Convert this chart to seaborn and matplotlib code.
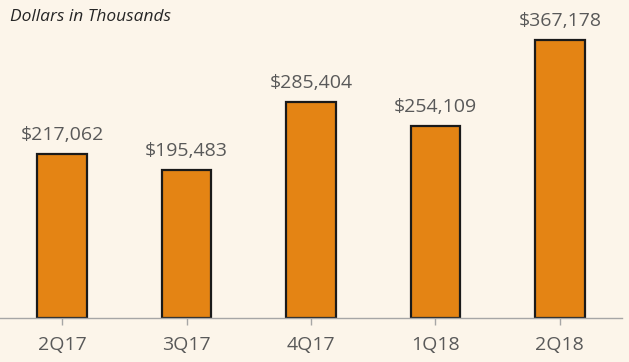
import matplotlib
matplotlib.use("Agg")
import matplotlib.pyplot as plt
import seaborn as sns
import pandas as pd

quarters = ["2Q17", "3Q17", "4Q17", "1Q18", "2Q18"]
values = [217062, 195483, 285404, 254109, 367178]

BG = "#FCF5EA"
BAR = "#E48414"
TXT = "#595959"

sns.set_theme(style="white")
plt.rcParams["font.family"] = ["Open Sans", "DejaVu Sans"]

df = pd.DataFrame({"quarter": quarters, "value": values})

fig = plt.figure(figsize=(6.29, 3.62), dpi=100, facecolor=BG)
ax = fig.add_axes([0.0, (362 - 318) / 362, 622 / 629, 318 / 362])
ax.set_facecolor(BG)

sns.barplot(data=df, x="quarter", y="value", color=BAR, width=0.4,
            edgecolor="#1a1a1a", linewidth=1.6, saturation=1, ax=ax)

ax.set_xlim(-0.5, 4.5)
ax.set_ylim(0, 420000)

for i, v in enumerate(values):
    ax.annotate(f"${v:,}", (i, v), xytext=(0, 7), textcoords="offset points",
                ha="center", va="bottom", fontsize=14, color=TXT)

for s in ["top", "right", "left"]:
    ax.spines[s].set_visible(False)
ax.spines["bottom"].set_color("#a6a6a6")
ax.spines["bottom"].set_linewidth(1.0)
ax.set_yticks([])
ax.set_xlabel("")
ax.set_ylabel("")
ax.tick_params(axis="x", bottom=True, length=5, color="#a6a6a6", width=1,
               labelsize=14, labelcolor=TXT, pad=8)
ax.set_xticks(range(len(quarters)))
ax.set_xticklabels(quarters)

fig.text(10 / 629, 1 - 17 / 362, "Dollars in Thousands", fontsize=12.5,
         style="italic", color="#262626", ha="left", va="center")

fig.savefig("out.png", dpi=100, facecolor=BG)
